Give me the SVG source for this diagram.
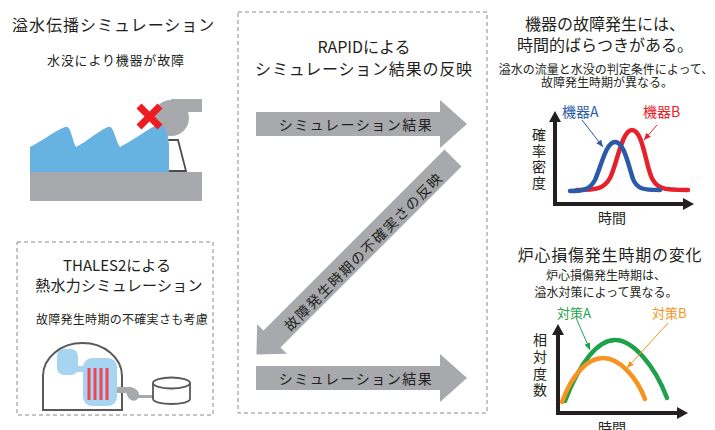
<svg xmlns="http://www.w3.org/2000/svg" width="715" height="430" viewBox="0 0 715 430">
  <defs>
    <style>
      text { font-family: "Noto Sans CJK JP", "Noto Sans", sans-serif; fill: #231f20; }
      .frame { fill: none; stroke: #8a8a8a; stroke-width: 1; stroke-dasharray: 4 3; }
      .flow { fill: #a7a9ac; }
      .flowtxt { font-size: 14px; letter-spacing: 1.5px; dominant-baseline: central; fill: #231f20; }
      .axis { stroke: #231f20; stroke-width: 4; fill: none; }
      .axhead { fill: #231f20; }
      .vlabel { font-size: 14px; writing-mode: vertical-rl; }
      .curve { fill: none; stroke-width: 4.5; stroke-linecap: round; stroke-linejoin: round; }
      .lead { fill: none; stroke-width: 1; }
      .outline { fill: none; stroke: #58595b; stroke-width: 1.8; }
    </style>
    <marker id="tipBlue" markerUnits="userSpaceOnUse" markerWidth="7" markerHeight="6" refX="7" refY="3" orient="auto"><path d="M0,0 L7,3 L0,6 z" fill="#2b5aa8"/></marker>
    <marker id="tipRed" markerUnits="userSpaceOnUse" markerWidth="7" markerHeight="6" refX="7" refY="3" orient="auto"><path d="M0,0 L7,3 L0,6 z" fill="#e8202a"/></marker>
    <marker id="tipGreen" markerUnits="userSpaceOnUse" markerWidth="7" markerHeight="6" refX="7" refY="3" orient="auto"><path d="M0,0 L7,3 L0,6 z" fill="#1ea14b"/></marker>
    <marker id="tipOrange" markerUnits="userSpaceOnUse" markerWidth="7" markerHeight="6" refX="7" refY="3" orient="auto"><path d="M0,0 L7,3 L0,6 z" fill="#f7931e"/></marker>
  </defs>

  <rect width="715" height="430" fill="#ffffff"/>

  <!-- Flooding propagation simulation -->
  <g id="flooding">
    <text x="12" y="31" font-size="16" letter-spacing="1">溢水伝播シミュレーション</text>
    <text x="47" y="65" font-size="13" letter-spacing="0.8">水没により機器が故障</text>
    <!-- pump body and outlet -->
    <circle cx="171" cy="118" r="18" fill="#a7a9ac"/>
    <rect x="171" y="99" width="31" height="13" fill="#a7a9ac"/>
    <!-- pump stand -->
    <path d="M166,140 H178 L186,171 H166" fill="#ffffff" stroke="#4d4d4d" stroke-width="1.8"/>
    <!-- floor -->
    <rect x="30" y="172" width="172" height="29" fill="#a7a9ac"/>
    <!-- water -->
    <path d="M30,147 C44,140 56,130 65,127 C71,125 72,140 76,147 C88,141 98,131 108,127 C114,125 115,140 120,147 C132,141 145,131 155,126 C164,122 169,132 169,148 L169,172 L30,172 Z" fill="#66b2e0"/>
    <!-- failure mark -->
    <g stroke="#ec1c24" stroke-width="7" stroke-linecap="butt">
      <line x1="139" y1="106" x2="160" y2="127"/>
      <line x1="160" y1="106" x2="139" y2="127"/>
    </g>
  </g>

  <!-- Thermal-hydraulic simulation -->
  <g id="thales">
    <rect class="frame" x="17" y="242" width="196" height="173"/>
    <text font-size="15" text-anchor="middle"><tspan x="117" y="271">THALES2による</tspan><tspan x="119" y="291" letter-spacing="0.3">熱水力シミュレーション</tspan></text>
    <text x="122" y="324" font-size="12" letter-spacing="0.3" text-anchor="middle">故障発生時期の不確実さも考慮</text>
    <!-- containment -->
    <path d="M43,410 V376 A39.5,33 0 0 1 122,376 V410 Z" fill="#ffffff" stroke="#58595b" stroke-width="2"/>
    <!-- pressurizer, surge line and vessel -->
    <rect x="57" y="349" width="21" height="26" rx="7" fill="#a6d4f1"/>
    <rect x="75" y="366" width="10" height="6" fill="#a6d4f1"/>
    <rect x="83" y="358" width="34" height="48" rx="9" fill="#a6d4f1"/>
    <g fill="#ef4655">
      <rect x="87.5" y="368" width="3" height="32"/>
      <rect x="93.5" y="368" width="3" height="32"/>
      <rect x="99.5" y="368" width="3" height="32"/>
      <rect x="105.5" y="368" width="3" height="32"/>
    </g>
    <!-- piping and pump -->
    <rect x="117" y="387" width="14" height="6" fill="#a7a9ac"/>
    <path d="M127,388 C131,386 138,389 139,394 C140,399 135,402 131,400 C127,398 125,391 127,388 Z" fill="#a7a9ac"/>
    <rect x="138" y="395" width="16" height="3" fill="#a7a9ac"/>
    <!-- tank -->
    <path d="M153,383 V399 A18.5,5 0 0 0 190,399 V383" class="outline" fill="#ffffff"/>
    <ellipse cx="171.5" cy="383" rx="18.5" ry="5.5" class="outline"/>
  </g>

  <!-- RAPID coupling -->
  <g id="rapid">
    <rect class="frame" x="238" y="12" width="249" height="401"/>
    <text font-size="16" text-anchor="middle"><tspan x="364" y="53">RAPIDによる</tspan><tspan x="364" y="74.5" letter-spacing="0.8">シミュレーション結果の反映</tspan></text>
  </g>

  <g id="connectors">
    <g id="result-top">
      <polygon class="flow" points="256,112 440,112 440,100 467,124 440,148 440,136 256,136"/>
      <text class="flowtxt" x="356" y="124" text-anchor="middle">シミュレーション結果</text>
    </g>
    <g id="feedback">
      <polygon class="flow" transform="translate(453,158) rotate(135)" points="0,-12 256,-12 256,-21 278,0 256,21 256,12 0,12"/>
      <text class="flowtxt" x="363" y="251" text-anchor="middle" letter-spacing="1.3" transform="rotate(-45 363 251)">故障発生時期の不確実さの反映</text>
    </g>
    <g id="result-bottom">
      <polygon class="flow" points="256,366 440,366 440,354 467,378 440,402 440,390 256,390"/>
      <text class="flowtxt" x="356" y="378" text-anchor="middle">シミュレーション結果</text>
    </g>
  </g>

  <!-- Failure time distribution -->
  <g id="failure-time">
    <text font-size="16" text-anchor="middle"><tspan x="605" y="30">機器の故障発生には、</tspan><tspan x="605" y="51">時間的ばらつきがある。</tspan></text>
    <text font-size="12" text-anchor="middle"><tspan x="606" y="74">溢水の流量と水没の判定条件によって、</tspan><tspan x="607" y="86.5">故障発生時期が異なる。</tspan></text>
    <polyline class="axis" points="555,120 555,204 685,204"/>
    <polygon class="axhead" points="549,122 555,111 561,122"/>
    <polygon class="axhead" points="683,198 694,204 683,210"/>
    <text class="vlabel" x="539" y="128" letter-spacing="2">確率密度</text>
    <text x="612" y="223" font-size="14" text-anchor="middle">時間</text>
    <path class="curve" stroke="#e8202a" d="M577,190 C596,190 604,189 610,178 C617,164 622,130 632,130 C642,130 645,160 651,176 C656,189 663,190 688,190"/>
    <path class="curve" stroke="#2b5aa8" d="M570,191 C585,191 590,189 595,180 C601,167 606,142 615,142 C624,142 628,164 633,179 C637,189 643,190 660,190"/>
    <text x="562" y="117" font-size="14" style="fill:#2b5aa8">機器A</text>
    <text x="643" y="117" font-size="14" style="fill:#e8202a">機器B</text>
    <line class="lead" stroke="#2b5aa8" x1="582" y1="120" x2="603" y2="147" marker-end="url(#tipBlue)"/>
    <line class="lead" stroke="#e8202a" x1="657" y1="125" x2="644" y2="140" marker-end="url(#tipRed)"/>
  </g>

  <!-- Core damage time -->
  <g id="core-damage">
    <text x="610" y="261" font-size="16" letter-spacing="0.8" text-anchor="middle">炉心損傷発生時期の変化</text>
    <text font-size="12" text-anchor="middle"><tspan x="606" y="280">炉心損傷発生時期は、</tspan><tspan x="606" y="296.5">溢水対策によって異なる。</tspan></text>
    <polyline class="axis" points="558,334 558,413 678,413"/>
    <polygon class="axhead" points="552,335 558,324 564,335"/>
    <polygon class="axhead" points="677,407 688,413 677,419"/>
    <text class="vlabel" x="540" y="333" letter-spacing="2.7">相対度数</text>
    <text x="612" y="433" font-size="14" text-anchor="middle">時間</text>
    <path class="curve" stroke="#1ea14b" d="M565,401 C580,362 598,340 615,340 C633,340 655,366 667,398"/>
    <path class="curve" stroke="#f7931e" d="M562,402 C572,374 588,358 603,358 C620,358 637,378 645,399"/>
    <text x="557" y="318" font-size="13" style="fill:#1ea14b">対策A</text>
    <text x="652" y="318" font-size="13" style="fill:#f7931e">対策B</text>
    <line class="lead" stroke="#1ea14b" x1="577" y1="320" x2="590" y2="350" marker-end="url(#tipGreen)"/>
    <line class="lead" stroke="#f7931e" x1="668" y1="323" x2="627" y2="368" marker-end="url(#tipOrange)"/>
  </g>
</svg>
